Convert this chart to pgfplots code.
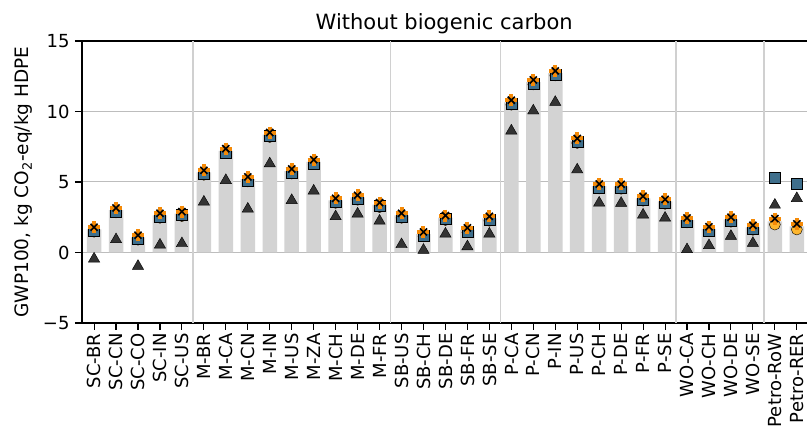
\documentclass[border=0pt]{standalone}
\usepackage{pgfplots}
\pgfplotsset{compat=1.18}
\usepackage{pgfplotstable}
\usepackage{fontspec}
\setmainfont{DejaVu Sans}
\definecolor{barGray}{HTML}{D3D3D3}
\definecolor{sqBlue}{HTML}{3F6F8C}
\definecolor{plusOrange}{HTML}{F58A07}
\definecolor{circYellow}{HTML}{FDB62E}
\definecolor{triDark}{HTML}{333333}
\definecolor{hgrid}{HTML}{BDBDBD}
\definecolor{vgrid}{HTML}{D0D0D0}
\pgfplotstableread{
idx bar blue circ cross tri
0 1.64 1.54 1.47 1.79 -0.45
1 3.01 2.91 2.84 3.16 0.92
2 1.08 0.98 0.91 1.23 -0.97
3 2.63 2.53 2.46 2.78 0.54
4 2.75 2.65 2.58 2.90 0.64
5 5.68 5.58 5.51 5.83 3.59
6 7.21 7.11 7.04 7.36 5.12
7 5.21 5.11 5.04 5.36 3.09
8 8.36 8.26 8.19 8.51 6.30
9 5.77 5.67 5.60 5.92 3.70
10 6.43 6.33 6.26 6.58 4.37
11 3.69 3.59 3.52 3.84 2.55
12 3.91 3.81 3.74 4.06 2.74
13 3.39 3.29 3.22 3.54 2.24
14 2.63 2.53 2.46 2.78 0.57
15 1.31 1.21 1.14 1.46 0.17
16 2.47 2.37 2.30 2.62 1.32
17 1.60 1.50 1.43 1.75 0.42
18 2.42 2.32 2.25 2.57 1.32
19 10.65 10.55 10.48 10.80 8.63
20 12.09 11.99 11.92 12.24 10.05
21 12.73 12.63 12.56 12.88 10.66
22 7.94 7.84 7.77 8.09 5.87
23 4.71 4.61 4.54 4.86 3.52
24 4.69 4.59 4.52 4.84 3.50
25 3.84 3.74 3.67 3.99 2.67
26 3.62 3.52 3.45 3.77 2.45
27 2.30 2.20 2.13 2.45 0.21
28 1.67 1.57 1.50 1.82 0.50
29 2.35 2.25 2.18 2.50 1.16
30 1.78 1.68 1.61 1.93 0.66
31 2.20 5.28 1.98 2.40 3.37
32 1.85 4.86 1.63 2.03 3.84
}\datatable
\begin{document}
\begin{tikzpicture}
\begin{axis}[
  name=ax,
  scale only axis,
  width=728pt, height=282pt,
  xmin=-0.55, xmax=32.6,
  ymin=-5, ymax=15,
  xtick={0,...,32},
  xticklabels={SC-BR,SC-CN,SC-CO,SC-IN,SC-US,M-BR,M-CA,M-CN,M-IN,M-US,M-ZA,M-CH,M-DE,M-FR,SB-US,SB-CH,SB-DE,SB-FR,SB-SE,P-CA,P-CN,P-IN,P-US,P-CH,P-DE,P-FR,P-SE,WO-CA,WO-CH,WO-DE,WO-SE,Petro-RoW,Petro-RER},
  ytick={-5,0,5,10,15},
  yticklabels={−5,0,5,10,15},
  extra x ticks={4.5,13.5,18.5,26.5,30.5},
  extra x tick labels={},
  extra x tick style={grid=major, major tick length=0pt, major grid style={color=vgrid, line width=1.4pt}},
  ymajorgrids,
  major grid style={color=hgrid, line width=1pt},
  tick align=outside,
  major tick length=7pt,
  tick style={black, line width=1.1pt},
  axis line style={black, line width=1.3pt},
  x tick label style={rotate=90, anchor=east, inner ysep=0pt, text depth=0pt, font=\fontsize{18}{20}\selectfont},
  y tick label style={font=\fontsize{18}{20}\selectfont, xshift=-2pt},
  xtick pos=bottom, ytick pos=left,
  title={Without biogenic carbon},
  title style={font=\fontsize{21}{24}\selectfont, yshift=-2pt, at={(rel axis cs:0.4975,1)}},
  ylabel={GWP100, kg CO\textsubscript{2}-eq/kg HDPE},
  ylabel style={font=\fontsize{18.5}{21}\selectfont},
  ylabel shift=4pt,
  clip=false,
]
\addplot[ybar, bar width=0.66, fill=barGray, draw=none] table[x=idx, y=bar] {\datatable};
\addplot[only marks, mark=*, mark size=5.5pt, mark options={fill=circYellow, draw=none}] table[x=idx, y=circ] {\datatable};
\addplot[only marks, mark=square*, mark size=5.5pt, mark options={fill=sqBlue, draw=none}] table[x=idx, y=blue] {\datatable};
\addplot[only marks, mark=+, mark size=6pt, mark options={draw=plusOrange, line width=4pt}] table[x=idx, y=cross] {\datatable};
\addplot[only marks, mark=x, mark size=5pt, mark options={draw=black, line width=1.6pt}] table[x=idx, y=cross] {\datatable};
\addplot[only marks, mark=triangle*, mark size=6.5pt, mark options={fill=triDark, draw=none}] table[x=idx, y=tri] {\datatable};
\end{axis}
\pgfresetboundingbox
\path (ax.south west) ++(-82pt,-112pt) rectangle ++(807pt,435pt);
\end{tikzpicture}
\end{document}
